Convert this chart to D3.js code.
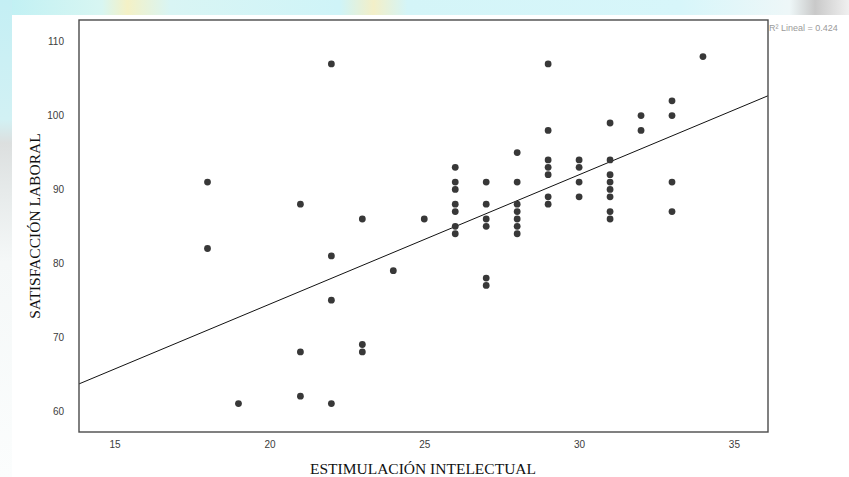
<!DOCTYPE html>
<html>
<head>
<meta charset="utf-8">
<script src="https://cdn.jsdelivr.net/npm/d3@7"></script>
<style>
  html, body { margin: 0; padding: 0; background: #fff; }
  svg { display: block; }
</style>
</head>
<body>
<svg id="chart" width="849" height="477"></svg>
<script>
// Scatter: intellectual stimulation vs. job satisfaction, with linear fit
const estimulacion = [
  18, 18,
  19,
  21, 21, 21,
  22, 22, 22, 22,
  23, 23, 23,
  24,
  25,
  26, 26, 26, 26, 26, 26, 26,
  27, 27, 27, 27, 27, 27,
  28, 28, 28, 28, 28, 28, 28,
  29, 29, 29, 29, 29, 29, 29,
  30, 30, 30, 30,
  31, 31, 31, 31, 31, 31, 31, 31,
  32, 32,
  33, 33, 33, 33,
  34
];
const satisfaccion = [
  91, 82,
  61,
  88, 68, 62,
  107, 81, 75, 61,
  86, 69, 68,
  79,
  86,
  93, 91, 90, 88, 87, 85, 84,
  91, 88, 86, 85, 78, 77,
  95, 91, 88, 87, 86, 85, 84,
  107, 98, 94, 93, 92, 89, 88,
  94, 93, 91, 89,
  99, 94, 92, 91, 90, 89, 87, 86,
  100, 98,
  102, 100, 91, 87,
  108
];
// Linear fit: intercept, slope
const ajuste = [39.37, 1.754];
const r2Label = "R² Lineal = 0.424";
const xTicks = [15, 20, 25, 30, 35];
const yTicks = [60, 70, 80, 90, 100, 110];
const xDomain = [13.85, 36.1];
const yDomain = [57.15, 112.95];

const svg = d3.select("#chart");
const defs = svg.append("defs");

// Tinted page surround
const gTop = defs.append("linearGradient").attr("id", "topBand").attr("x1", 0).attr("x2", 1).attr("y1", 0).attr("y2", 0);
[["0%", "#bff0f4"], ["12%", "#d8f6f2"], ["15%", "#f4f1c6"], ["20%", "#d9f5f4"], ["40%", "#cff4f8"],
 ["44%", "#f3efc8"], ["48%", "#d4f5f8"], ["80%", "#d7f6fa"], ["93%", "#eef7f8"], ["96%", "#c9c9c9"], ["100%", "#f0f0f0"]]
  .forEach(([o, c]) => gTop.append("stop").attr("offset", o).attr("stop-color", c));
const gLeft = defs.append("linearGradient").attr("id", "leftBand").attr("x1", 0).attr("x2", 0).attr("y1", 0).attr("y2", 1);
[["0%", "#c4eff4"], ["25%", "#d2f1f4"], ["30%", "#dcdfdf"], ["40%", "#e6eaea"], ["55%", "#f5f8f8"], ["100%", "#fbfdfd"]]
  .forEach(([o, c]) => gLeft.append("stop").attr("offset", o).attr("stop-color", c));

svg.append("rect").attr("x", 0).attr("y", 0).attr("width", 849).attr("height", 15).attr("fill", "url(#topBand)");
svg.append("rect").attr("x", 0).attr("y", 0).attr("width", 12).attr("height", 477).attr("fill", "url(#leftBand)");

const x = d3.scaleLinear().domain(xDomain).range([79, 768]);
const y = d3.scaleLinear().domain(yDomain).range([432, 20]);

defs.append("clipPath").attr("id", "plotClip")
  .append("rect").attr("x", x.range()[0]).attr("y", y.range()[1])
  .attr("width", x.range()[1] - x.range()[0]).attr("height", y.range()[0] - y.range()[1]);

// Axes: labels only, no tick marks or domain line
const xAxis = svg.append("g").attr("transform", `translate(0,${y.range()[0]})`)
  .call(d3.axisBottom(x).tickValues(xTicks).tickSize(0).tickPadding(9).tickFormat(d3.format("d")));
const yAxis = svg.append("g").attr("transform", `translate(${x.range()[0]},0)`)
  .call(d3.axisLeft(y).tickValues(yTicks).tickSize(0).tickPadding(15).tickFormat(d3.format("d")));
[xAxis, yAxis].forEach(a => {
  a.select(".domain").remove();
  a.selectAll("text")
    .attr("fill", "#3c3c3c")
    .style("font-family", "'Liberation Sans Narrow', 'Liberation Sans', Arial, sans-serif")
    .style("font-size", "10px");
});

// Fit line
const plot = svg.append("g").attr("clip-path", "url(#plotClip)");
const fitY = v => ajuste[0] + ajuste[1] * v;
plot.append("line")
  .attr("x1", x(xDomain[0])).attr("y1", y(fitY(xDomain[0])))
  .attr("x2", x(xDomain[1])).attr("y2", y(fitY(xDomain[1])))
  .attr("stroke", "#111").attr("stroke-width", 1);

// Points
plot.selectAll("circle")
  .data(d3.range(estimulacion.length))
  .join("circle")
  .attr("cx", i => x(estimulacion[i]))
  .attr("cy", i => y(satisfaccion[i]))
  .attr("r", 3.4)
  .attr("fill", "#383838");

// Frame
svg.append("rect")
  .attr("x", x.range()[0]).attr("y", y.range()[1])
  .attr("width", x.range()[1] - x.range()[0]).attr("height", y.range()[0] - y.range()[1])
  .attr("fill", "none").attr("stroke", "#4a4a4a").attr("stroke-width", 1.4);

// Fit annotation
svg.append("text")
  .attr("x", 769).attr("y", 31)
  .attr("fill", "#9a9a9a")
  .style("font-family", "'Liberation Sans Narrow', 'Liberation Sans', Arial, sans-serif")
  .style("font-size", "9px")
  .text(r2Label);

// Axis titles
svg.append("text")
  .attr("x", 423).attr("y", 474)
  .attr("text-anchor", "middle")
  .attr("fill", "#111")
  .style("font-family", "'Liberation Serif', 'Times New Roman', serif")
  .style("font-size", "15.5px")
  .text("ESTIMULACIÓN INTELECTUAL");
svg.append("text")
  .attr("transform", "translate(40,226) rotate(-90)")
  .attr("text-anchor", "middle")
  .attr("fill", "#111")
  .style("font-family", "'Liberation Serif', 'Times New Roman', serif")
  .style("font-size", "15.5px")
  .text("SATISFACCIÓN LABORAL");
</script>
</body>
</html>
